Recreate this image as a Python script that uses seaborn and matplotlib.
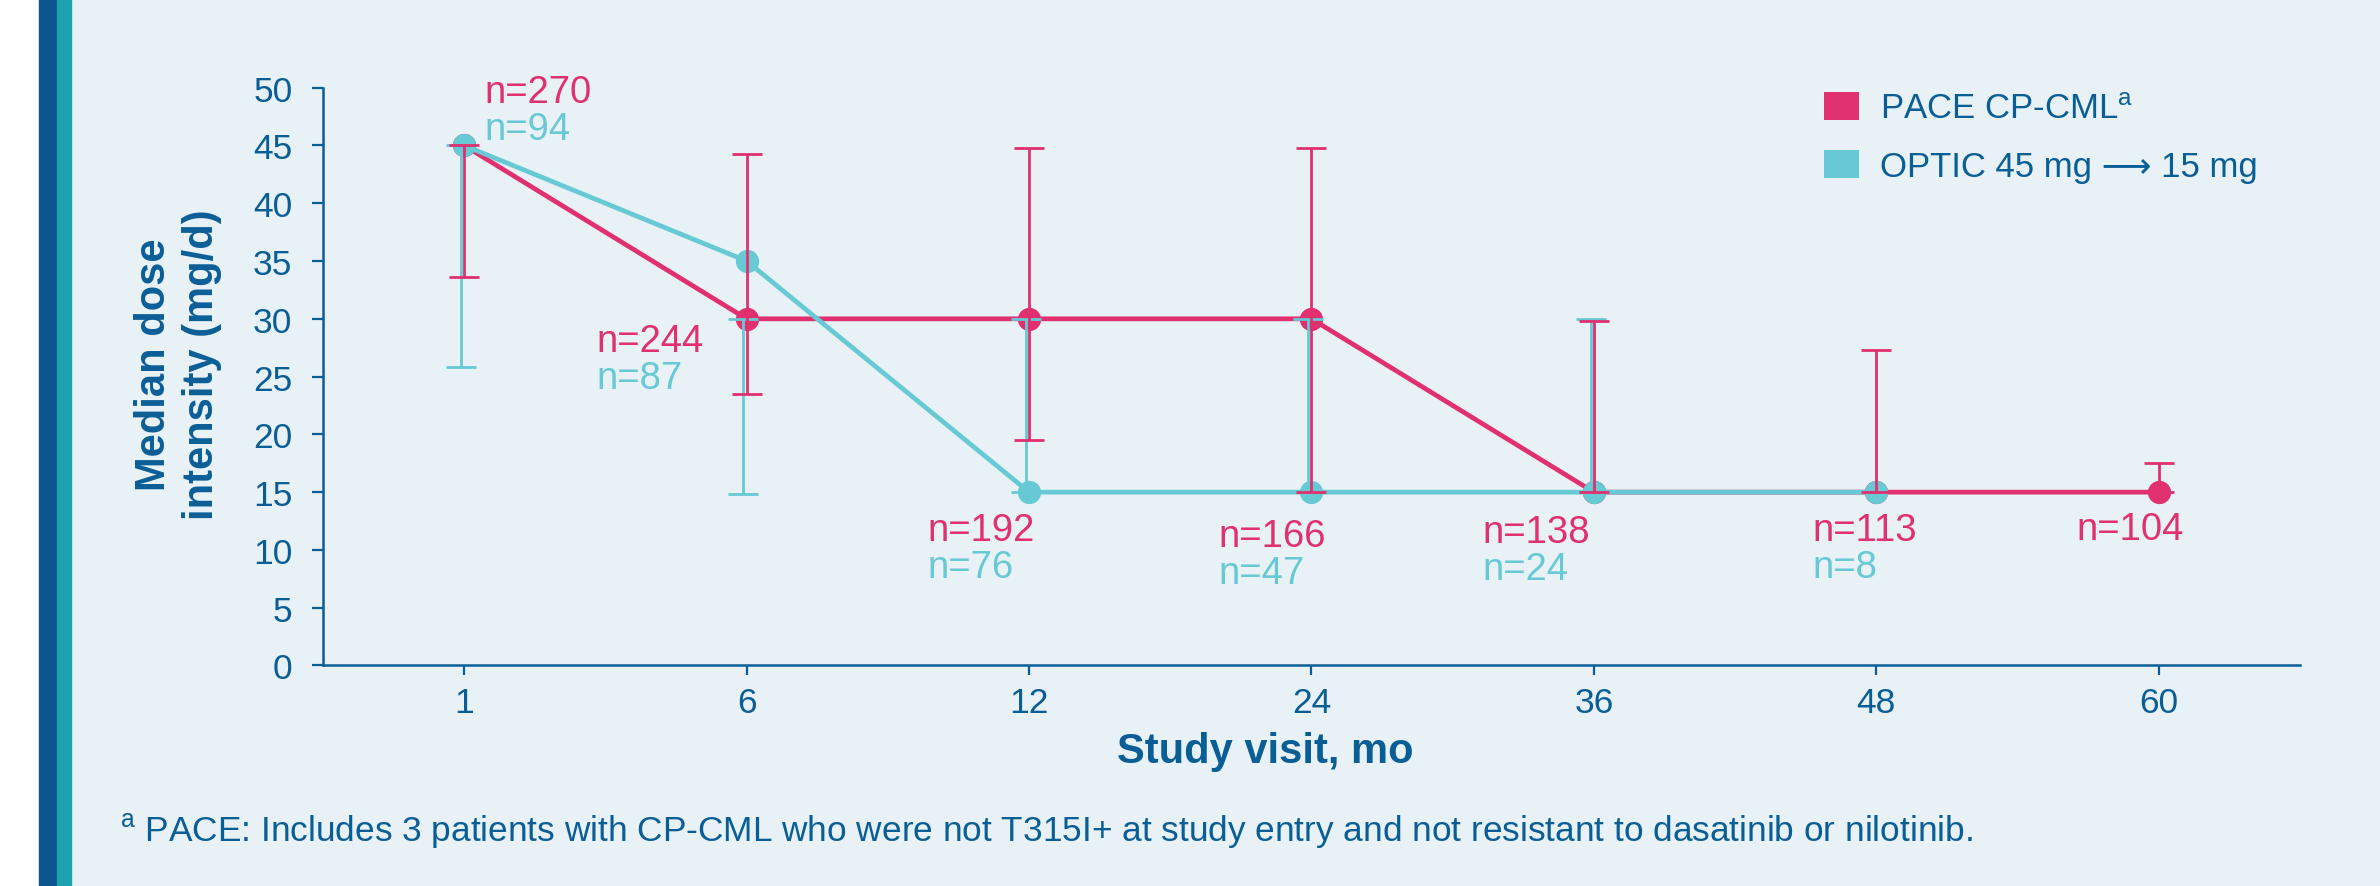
import numpy as np
import pandas as pd
import matplotlib
matplotlib.use('Agg')
import matplotlib.pyplot as plt
import seaborn as sns
from matplotlib.patches import Patch, Rectangle

# study visits (months) and median dose intensity (mg/d) with ranges
visits = ['1', '6', '12', '24', '36', '48', '60']

pace_median = [45, 30, 30, 30, 15, 15, 15]
pace_low = [33.6, 23.5, 19.5, 15, 15, 15, 15]
pace_high = [45, 44.3, 44.8, 44.8, 29.8, 27.3, 17.5]
pace_n = [270, 244, 192, 166, 138, 113, 104]

optic_median = [45, 35, 15, 15, 15, 15]
optic_low = [25.8, 14.8, 15, 15, 15, 15]
optic_high = [45, 30, 30, 30, 30, 15]
optic_n = [94, 87, 76, 47, 24, 8]

pink = '#E0306F'
teal = '#66C9D4'
navy = '#0A5E96'
bg = '#E8F1F5'

sns.set_theme(style='ticks')
plt.rcParams['font.family'] = ['Liberation Sans', 'DejaVu Sans']
plt.rcParams['mathtext.default'] = 'regular'

pos = np.arange(len(visits))
n_optic = len(optic_median)
pace_df = pd.DataFrame({'pos': pos, 'dose': pace_median})
optic_df = pd.DataFrame({'pos': pos[:n_optic], 'dose': optic_median})

fig = plt.figure(figsize=(23.8, 8.87), dpi=100, facecolor=bg)
ax = fig.add_axes([0.1357, 0.2486, 0.8307, 0.6514])
ax.set_facecolor(bg)

# left decorative bars
fig.add_artist(Rectangle((0, 0), 39/2380, 1, transform=fig.transFigure, color='white', zorder=0))
fig.add_artist(Rectangle((39/2380, 0), 18/2380, 1, transform=fig.transFigure, color='#0B5590', zorder=0))
fig.add_artist(Rectangle((57/2380, 0), 14/2380, 1, transform=fig.transFigure, color='#1CA3AF', zorder=0))

z = 2
for d, c in [(pace_df, pink), (optic_df, teal)]:
    sns.lineplot(data=d, x='pos', y='dose', color=c, linewidth=3.4, errorbar=None, ax=ax, zorder=z)
    sns.scatterplot(data=d, x='pos', y='dose', color=c, s=280, linewidth=0, ax=ax, zorder=z + 0.1)
    z += 0.2

# range bars drawn from low to high
o_low = np.array(optic_low)
o_high = np.array(optic_high)
ax.errorbar(pos[:n_optic] - 0.012, o_low, yerr=[np.zeros(n_optic), o_high - o_low],
            fmt='none', ecolor=teal, elinewidth=2, capsize=11, capthick=2, zorder=4)
p_low = np.array(pace_low)
p_high = np.array(pace_high)
ax.errorbar(pos, p_low, yerr=[np.zeros(len(pos)), p_high - p_low],
            fmt='none', ecolor=pink, elinewidth=2, capsize=11, capthick=2, zorder=5)

# n labels
label_x = [0.071, 0.468, 1.642, 2.670, 3.606, 4.773, 5.709]
label_y = [48.8, 27.2, 10.86, 10.3, 10.69, 10.86, 10.95]
for i in range(len(pace_n)):
    ax.text(label_x[i], label_y[i], f'n={pace_n[i]}', color=pink, fontsize=27.5,
            ha='left', va='baseline', clip_on=False)
    if i < n_optic:
        ax.annotate(f'n={optic_n[i]}', xy=(label_x[i], label_y[i]), xytext=(0, -26.6),
                    textcoords='offset points', color=teal, fontsize=27.5,
                    ha='left', va='baseline', annotation_clip=False)

ax.set_xlim(-0.5, 6.5)
ax.set_ylim(0, 50)
ax.set_xticks(pos, visits)
ax.set_yticks(np.arange(0, 51, 5))
ax.tick_params(axis='both', colors=navy, labelsize=25.5, width=1.6, direction='out')
ax.tick_params(axis='y', length=8, pad=14)
ax.tick_params(axis='x', length=7, pad=8)
sns.despine(ax=ax)
for s in ['left', 'bottom']:
    ax.spines[s].set_color(navy)
    ax.spines[s].set_linewidth(1.8)

ax.set_xlabel('Study visit, mo', fontsize=30, fontweight='bold', color=navy, va='center')
ax.xaxis.set_label_coords(0.4765, -0.148)
ax.set_ylabel('Median dose\nintensity (mg/d)', fontsize=30, fontweight='bold', color=navy,
              linespacing=1.25, va='center', ha='center')
ax.yaxis.set_label_coords(-0.0733, 0.522)

handles = [Patch(facecolor=pink, edgecolor='none', label='PACE CP-CML$^{a}$'),
           Patch(facecolor=teal, edgecolor='none', label='OPTIC 45 mg \u27f6 15 mg')]
fig.legend(handles=handles, loc='upper left', bbox_to_anchor=(1824/2380, 1 - 93/887),
           frameon=False, fontsize=25, handlelength=1.0, handleheight=0.87,
           handletextpad=0.6, labelspacing=0.72, borderpad=0, borderaxespad=0,
           labelcolor=navy)

fig.text(120/2380, 1 - 841/887,
         '$^{a}$ PACE: Includes 3 patients with CP-CML who were not T315I+ at study entry and not resistant to dasatinib or nilotinib.',
         fontsize=25.4, color=navy, va='baseline')

fig.savefig('out.png', dpi=100, facecolor=bg)
